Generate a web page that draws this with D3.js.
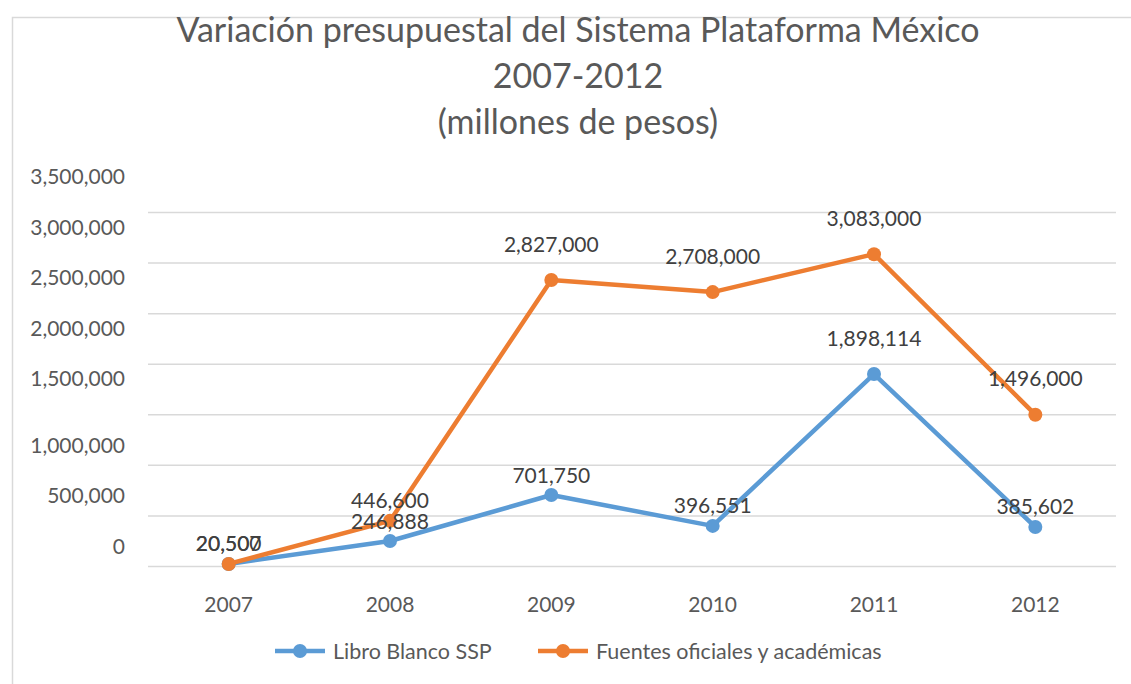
<!DOCTYPE html>
<html>
<head>
<meta charset="utf-8">
<script src="https://cdn.jsdelivr.net/npm/d3@7"></script>
<style>
  body { margin: 0; background: #fff; }
  svg { display: block; font-family: Lato, "Open Sans", sans-serif; }
</style>
</head>
<body>
<div id="chart"></div>
<script>
// data
const years = ['2007', '2008', '2009', '2010', '2011', '2012'];
const libroBlanco = [20500, 246888, 701750, 396551, 1898114, 385602];
const fuentes = [20507, 446600, 2827000, 2708000, 3083000, 1496000];
const yTicks = [0, 500000, 1000000, 1500000, 2000000, 2500000, 3000000, 3500000];
const seriesNames = ['Libro Blanco SSP', 'Fuentes oficiales y académicas'];
const titleLines = ['Variación presupuestal del Sistema Plataforma México', '2007-2012', '(millones de pesos)'];

const W = 1131, H = 684;
const margin = { top: 212, right: 15, bottom: 118, left: 148 };
const width = W - margin.left - margin.right;
const height = H - margin.top - margin.bottom;

const colors = ['#5b9bd5', '#ed7d31'];
const fmt = d3.format(',');

// text layer in the original sits a bit higher for the big values
const textShift = v => v >= 1200000 ? -37 : -21;

const svg = d3.select('#chart').append('svg')
    .attr('width', W)
    .attr('height', H);

// chart border (only left and top visible in the crop)
svg.append('path')
    .attr('d', `M12.5,${H} V17.5 H${W}`)
    .attr('fill', 'none')
    .attr('stroke', '#d9d9d9')
    .attr('stroke-width', 1.5);

// title
svg.append('g').selectAll('text')
    .data(titleLines)
    .enter()
    .append('text')
    .attr('x', 578)
    .attr('y', (d, i) => 42 + i * 46)
    .attr('text-anchor', 'middle')
    .attr('font-size', 34)
    .attr('fill', '#595959')
    .text(d => d);

const g = svg.append('g').attr('transform', `translate(${margin.left},${margin.top})`);

const x = d3.scaleBand().domain(years).range([0, width]);
const y = d3.scaleLinear().domain([0, 3500000]).range([height, 0]);

// y axis + gridlines
const yAxis = g.append('g')
    .call(d3.axisLeft(y).tickValues(yTicks).tickSize(-width).tickFormat(fmt));
yAxis.select('.domain').remove();
yAxis.selectAll('.tick line')
    .attr('stroke', '#d9d9d9')
    .attr('stroke-width', 1.5);
yAxis.selectAll('.tick text')
    .attr('x', -23)
    .attr('dy', null)
    .attr('y', d => textShift(d))
    .attr('dominant-baseline', 'central')
    .attr('font-size', 21)
    .attr('font-family', 'Lato, sans-serif')
    .attr('fill', '#595959');

// x axis
const xAxis = g.append('g')
    .attr('transform', `translate(0,${height})`)
    .call(d3.axisBottom(x).tickSize(0));
xAxis.select('.domain').remove();
xAxis.selectAll('.tick text')
    .attr('y', 37)
    .attr('dy', null)
    .attr('dominant-baseline', 'central')
    .attr('font-size', 21)
    .attr('font-family', 'Lato, sans-serif')
    .attr('fill', '#595959');

const cx = d => x(d) + x.bandwidth() / 2;
const line = d3.line()
    .x((d, i) => cx(years[i]))
    .y(d => y(d));

[libroBlanco, fuentes].forEach((series, s) => {
    const sg = g.append('g');
    sg.append('path')
        .datum(series)
        .attr('d', line)
        .attr('fill', 'none')
        .attr('stroke', colors[s])
        .attr('stroke-width', 4.5)
        .attr('stroke-linejoin', 'round');
    sg.selectAll('circle')
        .data(series)
        .enter()
        .append('circle')
        .attr('cx', (d, i) => cx(years[i]))
        .attr('cy', d => y(d))
        .attr('r', 7)
        .attr('fill', colors[s]);
});

// data labels
[libroBlanco, fuentes].forEach(series => {
    g.append('g').selectAll('text')
        .data(series)
        .enter()
        .append('text')
        .attr('x', (d, i) => cx(years[i]))
        .attr('y', d => y(d) + textShift(d))
        .attr('text-anchor', 'middle')
        .attr('dominant-baseline', 'central')
        .attr('font-size', 21)
        .attr('fill', '#404040')
        .text(d => fmt(d));
});

// legend
const legendX = [275, 538];
const legend = svg.append('g').selectAll('g')
    .data(seriesNames)
    .enter()
    .append('g')
    .attr('transform', (d, i) => `translate(${legendX[i]},651)`);
legend.append('line')
    .attr('x1', 0).attr('x2', 50)
    .attr('stroke', (d, i) => colors[i])
    .attr('stroke-width', 4.5);
legend.append('circle')
    .attr('cx', 25)
    .attr('r', 7)
    .attr('fill', (d, i) => colors[i]);
legend.append('text')
    .attr('x', 58)
    .attr('dominant-baseline', 'central')
    .attr('font-size', 21.5)
    .attr('fill', '#595959')
    .text(d => d);
</script>
</body>
</html>
